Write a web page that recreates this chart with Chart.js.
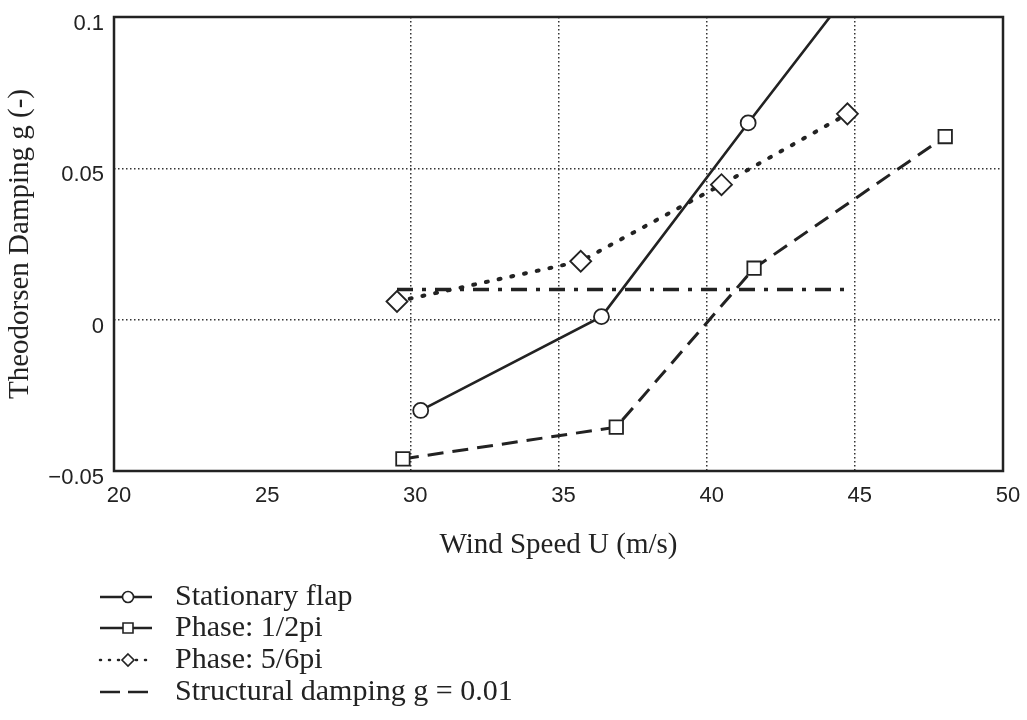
<!DOCTYPE html>
<html>
<head>
<meta charset="utf-8">
<script src="https://cdn.jsdelivr.net/npm/chart.js@4"></script>
<style>
  body { margin: 0; background: #fff; }
</style>
</head>
<body>
<canvas id="myChart" width="1027" height="720"></canvas>
<script>
// wind speed (m/s) and damping g
const stationaryU = [30.35, 36.45, 41.4, 45.5];
const stationaryG = [-0.030, 0.001, 0.065, 0.117];
const halfPiU = [29.75, 36.95, 41.6, 48.05];
const halfPiG = [-0.046, -0.0355, 0.017, 0.0605];
const fiveSixthPiU = [29.55, 35.75, 40.5, 44.75];
const fiveSixthPiG = [0.006, 0.0193, 0.0446, 0.068];
const structuralU = [29.55, 44.75];
const structuralG = [0.01, 0.01];

const xTicks = [20, 25, 30, 35, 40, 45, 50];
const yTicks = [-0.05, 0, 0.05, 0.1];

const seriesNames = ['Stationary flap', 'Phase: 1/2pi', 'Phase: 5/6pi', 'Structural damping g = 0.01'];

const ink = '#222';
const serif = '"Liberation Serif", "Times New Roman", serif';

const toPoints = (xs, ys) => xs.map((x, i) => ({ x: x, y: ys[i] }));

// box round the plot area
const frame = {
    id: 'frame',
    afterDraw(chart) {
        const { ctx, chartArea: a } = chart;
        ctx.save();
        ctx.strokeStyle = ink;
        ctx.lineWidth = 2.5;
        ctx.strokeRect(a.left, a.top, a.right - a.left, a.bottom - a.top);
        ctx.restore();
    }
};

// legend below the axis title: short line sample with marker, then the name
const lineLegend = {
    id: 'lineLegend',
    afterDraw(chart) {
        const ctx = chart.ctx;
        const rows = [597, 628, 660, 692];
        const x0 = 100, x1 = 152, mx = 128, tx = 175;
        ctx.save();
        ctx.strokeStyle = ink;
        ctx.fillStyle = ink;
        rows.forEach((y, i) => {
            ctx.lineWidth = 2.5;
            ctx.lineCap = 'butt';
            ctx.setLineDash([]);
            if (i === 2) {
                ctx.lineCap = 'round';
                ctx.setLineDash([1, 8]);
            }
            if (i === 3) ctx.setLineDash([20, 8]);
            ctx.beginPath();
            ctx.moveTo(x0, y);
            ctx.lineTo(x1, y);
            ctx.stroke();
            ctx.setLineDash([]);
            ctx.lineWidth = 1.6;
            ctx.fillStyle = '#fff';
            ctx.beginPath();
            if (i === 0) ctx.arc(mx, y, 5.5, 0, Math.PI * 2);
            if (i === 1) ctx.rect(mx - 5, y - 5, 10, 10);
            if (i === 2) {
                ctx.moveTo(mx, y - 6); ctx.lineTo(mx + 6, y);
                ctx.lineTo(mx, y + 6); ctx.lineTo(mx - 6, y); ctx.closePath();
            }
            if (i < 3) { ctx.fill(); ctx.stroke(); }
            ctx.fillStyle = ink;
            ctx.font = '30px ' + serif;
            ctx.textBaseline = 'middle';
            ctx.textAlign = 'left';
            ctx.fillText(seriesNames[i], tx, y);
        });
        ctx.restore();
    }
};

const common = {
    borderColor: ink,
    pointBackgroundColor: '#fff',
    pointBorderColor: ink,
    pointBorderWidth: 1.8,
    fill: false,
    tension: 0
};

const ctx = document.getElementById('myChart').getContext('2d');
new Chart(ctx, {
    type: 'line',
    data: {
        datasets: [
            Object.assign({}, common, {
                label: seriesNames[0],
                data: toPoints(stationaryU, stationaryG),
                borderWidth: 2.6,
                pointStyle: 'circle',
                pointRadius: 7.5
            }),
            Object.assign({}, common, {
                label: seriesNames[1],
                data: toPoints(halfPiU, halfPiG),
                borderWidth: 3,
                borderDash: [16, 9],
                pointStyle: 'rect',
                pointRadius: 9.5
            }),
            Object.assign({}, common, {
                label: seriesNames[2],
                data: toPoints(fiveSixthPiU, fiveSixthPiG),
                borderWidth: 4,
                borderDash: [2, 11],
                borderCapStyle: 'round',
                pointStyle: 'rectRot',
                pointRadius: 10.5
            }),
            Object.assign({}, common, {
                label: seriesNames[3],
                data: toPoints(structuralU, structuralG),
                borderWidth: 3.5,
                borderDash: [16, 9, 4, 9],
                pointRadius: 0
            })
        ]
    },
    options: {
        responsive: false,
        animation: false,
        layout: { padding: { top: 17, right: 24, left: 0, bottom: 0 } },
        plugins: {
            legend: { display: false },
            tooltip: { enabled: false }
        },
        scales: {
            x: {
                type: 'linear',
                min: 20,
                max: 50,
                afterBuildTicks: scale => { scale.ticks = xTicks.map(v => ({ value: v })); },
                afterFit: scale => {
                    scale.height = 249;
                    scale.paddingLeft = 0;
                    scale.paddingRight = 0;
                },
                ticks: {
                    padding: 12,
                    labelOffset: 5,
                    color: ink,
                    font: { family: '"Liberation Sans", Arial, sans-serif', size: 22 },
                    maxRotation: 0
                },
                grid: {
                    drawTicks: false,
                    lineWidth: 1.5,
                    color: c => (c.tick && (c.tick.value === 30 || c.tick.value === 35 ||
                        c.tick.value === 40 || c.tick.value === 45)) ? '#333' : 'rgba(0,0,0,0)'
                },
                border: { display: false, dash: [1.5, 2.5] },
                title: {
                    display: true,
                    text: 'Wind Speed U (m/s)',
                    color: ink,
                    font: { family: serif, size: 29 },
                    padding: { top: 0, bottom: 157 }
                }
            },
            y: {
                type: 'linear',
                min: -0.05,
                max: 0.1,
                afterBuildTicks: scale => { scale.ticks = yTicks.map(v => ({ value: v })); },
                afterFit: scale => {
                    scale.width = 114;
                    scale.paddingTop = 0;
                    scale.paddingBottom = 0;
                },
                ticks: {
                    padding: 10,
                    labelOffset: 7,
                    color: ink,
                    font: { family: '"Liberation Sans", Arial, sans-serif', size: 22 },
                    callback: v => {
                        const r = Math.round(v * 100) / 100;
                        return r < 0 ? '\u2212' + String(-r) : String(r);
                    }
                },
                grid: {
                    drawTicks: false,
                    lineWidth: 1.5,
                    color: c => (c.tick && (c.tick.value === 0 || c.tick.value === 0.05)) ? '#333' : 'rgba(0,0,0,0)'
                },
                border: { display: false, dash: [1.5, 2.5] },
                title: {
                    display: true,
                    text: 'Theodorsen Damping g (-)',
                    color: ink,
                    font: { family: serif, size: 29 },
                    padding: { top: 3, bottom: 0 }
                }
            }
        }
    },
    plugins: [frame, lineLegend]
});
</script>
</body>
</html>
